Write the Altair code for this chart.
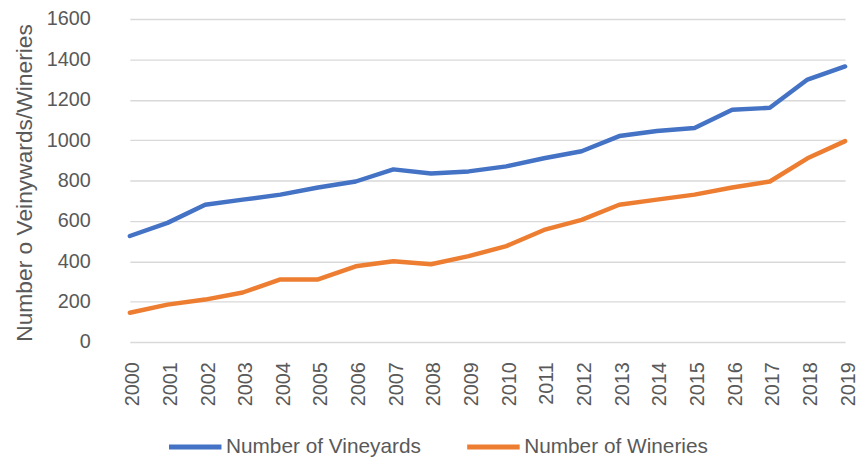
import altair as alt
import pandas as pd

years = [str(y) for y in range(2000, 2020)]
vineyards = [525, 590, 680, 705, 730, 765, 795, 855, 835, 845,
             870, 910, 945, 1020, 1045, 1060, 1150, 1160, 1300, 1365]
wineries = [145, 185, 210, 245, 310, 310, 375, 400, 385, 425,
            475, 555, 605, 680, 705, 730, 765, 795, 910, 995]
series_names = ["Number of Vineyards", "Number of Wineries"]
colors = ["#4472C4", "#ED7D31"]

rows = []
for y, v in zip(years, vineyards):
    rows.append({"Year": y, "Series": series_names[0], "Value": v})
for y, w in zip(years, wineries):
    rows.append({"Year": y, "Series": series_names[1], "Value": w})
df = pd.DataFrame(rows)

FONT = "Liberation Sans"
TXT = "#595959"

chart = alt.Chart(df).mark_line(strokeWidth=4.5, strokeCap="round", strokeJoin="round").encode(
    x=alt.X("Year:O", sort=years,
            scale=alt.Scale(type="point", range=[19, 741], padding=0),
            axis=alt.Axis(title=None, labelAngle=270, labelFontSize=20, labelColor=TXT,
                          labelFont=FONT, ticks=False, tickSize=0, domain=False,
                          labelPadding=20, labelOffset=3, grid=False)),
    y=alt.Y("Value:Q",
            scale=alt.Scale(domain=[0, 1600], nice=False),
            axis=alt.Axis(title="Number o Veinywards/Wineries", values=list(range(0, 1601, 200)),
                          format="d",
                          titleFontSize=23, titleFont=FONT, titleColor=TXT, titleFontWeight="normal",
                          titleAngle=270, titleX=-80, titleY=165, titleAlign="center",
                          titleBaseline="alphabetic",
                          labelFontSize=20, labelColor=TXT, labelFont=FONT,
                          ticks=False, tickSize=0, domain=False, labelPadding=21,
                          grid=True, gridColor="#D9D9D9", gridWidth=1.4)),
    color=alt.Color("Series:N", sort=series_names,
                    scale=alt.Scale(domain=series_names, range=colors),
                    legend=alt.Legend(title=None, orient="none", direction="horizontal",
                                      legendX=56, legendY=403, symbolType="stroke",
                                      symbolSize=2809, symbolStrokeWidth=5,
                                      labelFontSize=21, labelFont=FONT, labelColor=TXT,
                                      labelLimit=0, labelOffset=2, columnPadding=36, padding=0)),
).properties(
    width=754, height=326,
    autosize=alt.AutoSizeParams(type="none"),
    padding={"left": 104, "top": 9, "right": 0, "bottom": 114},
).configure_view(stroke=None)

chart.save("out.html", embed_options={"renderer": "svg", "actions": False})
